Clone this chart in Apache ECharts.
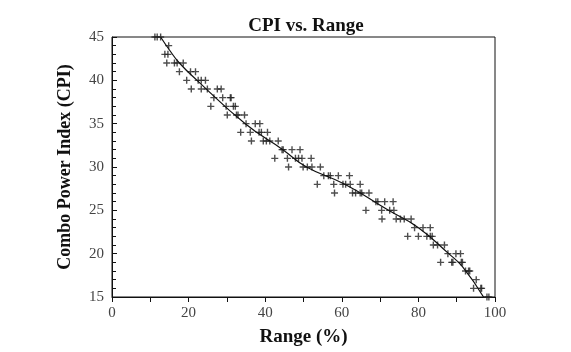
<!DOCTYPE html>
<html>
<head>
<meta charset="utf-8">
<script src="https://cdn.jsdelivr.net/npm/echarts@6/dist/echarts.min.js"></script>
<style>
  html, body { margin: 0; padding: 0; background: #fff; }
  #chart { width: 571px; height: 352px; }
</style>
</head>
<body>
<div id="chart"></div>
<script>
// scatter points, grouped by CPI row
var cpiRows = [45, 44, 43, 42, 41, 40, 39, 38, 37, 36, 35, 34, 33, 32, 31, 30, 29, 28, 27, 26, 25, 24, 23, 22, 21, 20, 19, 18, 17, 16, 15];
var rangeRows = [
    [11.2, 11.8, 12.7],
    [14.8],
    [13.8, 14.6],
    [14.3, 16.3, 17.0, 18.6],
    [17.6, 20.5, 21.8],
    [19.5, 22.5, 23.3, 24.4],
    [20.7, 23.3, 24.9, 27.5, 28.5],
    [26.6, 28.9, 30.9, 31.1],
    [25.8, 29.8, 31.7, 32.2],
    [30.1, 32.5, 32.9, 34.6],
    [35.0, 37.4, 38.6],
    [33.6, 36.1, 38.4, 39.0, 40.6],
    [36.4, 39.5, 40.3, 41.2, 43.4],
    [44.4, 44.7, 47.0, 49.1],
    [42.5, 45.8, 47.9, 48.7, 49.6, 52.0],
    [46.1, 49.9, 51.0, 52.2, 54.4],
    [55.3, 56.5, 57.0, 59.1, 62.0],
    [53.6, 57.9, 60.3, 61.0, 62.2, 64.8],
    [58.1, 62.8, 63.6, 64.8, 65.2, 67.1],
    [68.9, 69.4, 71.2, 73.4],
    [66.3, 70.4, 72.5, 73.6],
    [70.5, 74.2, 75.3, 76.3, 78.1],
    [79.0, 81.2, 83.1],
    [77.2, 80.0, 82.2, 83.1, 83.6],
    [83.9, 85.0, 86.8],
    [87.7, 89.8, 91.0],
    [85.8, 88.7, 89.0, 91.2, 91.5],
    [92.3, 93.1, 93.4],
    [95.1],
    [94.4, 96.3, 96.5],
    [97.9, 98.4]
];

// trend curve
var fitRange = [12.7, 15.0, 17.6, 22.2, 34.8, 44.6, 50.8, 60.8, 72.2, 80.0, 87.9, 91.5, 97.0];
var fitCpi   = [45,   43.5, 42,   40,   35,   32,   30,   28,   25,   23,   20,   18.5, 15];

var points = [];
cpiRows.forEach(function (cpi, i) {
    rangeRows[i].forEach(function (r) {
        points.push([r, cpi]);
    });
});
var curve = fitRange.map(function (r, i) { return [r, fitCpi[i]]; });

var font = 'Liberation Serif';
var chart = echarts.init(document.getElementById('chart'));
chart.setOption({
    animation: false,
    title: {
        text: 'CPI vs. Range',
        left: 301,
        textAlign: 'center',
        top: 12,
        textStyle: { fontFamily: font, fontSize: 19, fontWeight: 'bold', color: '#111' }
    },
    grid: {
        left: 112, right: 76, top: 37, bottom: 53,
        show: true, borderColor: '#111', borderWidth: 1
    },
    xAxis: {
        type: 'value', min: 0, max: 100, interval: 20,
        name: 'Range (%)', nameLocation: 'middle', nameGap: 31,
        nameTextStyle: { fontFamily: font, fontSize: 19, fontWeight: 'bold', color: '#111' },
        axisLine: { lineStyle: { color: '#111' } },
        axisTick: { show: true, length: 5, lineStyle: { color: '#111' } },
        minorTick: { show: true, splitNumber: 2, length: 5, lineStyle: { color: '#111' } },
        splitLine: { show: false },
        axisLabel: { fontFamily: font, fontSize: 15, color: '#444', margin: 9 }
    },
    yAxis: {
        type: 'value', min: 15, max: 45, interval: 5,
        name: 'Combo Power Index (CPI)', nameLocation: 'middle', nameGap: 38,
        nameTextStyle: { fontFamily: font, fontSize: 18, fontWeight: 'bold', color: '#111' },
        axisLine: { show: true, lineStyle: { color: '#111' } },
        axisTick: { show: true, inside: true, length: 5, lineStyle: { color: '#111' } },
        minorTick: { show: true, splitNumber: 5, length: 4, lineStyle: { color: '#111' } },
        splitLine: { show: false },
        axisLabel: { fontFamily: font, fontSize: 15, color: '#444', margin: 8 }
    },
    series: [
        {
            type: 'scatter',
            data: points,
            symbol: 'path://M4,0H6V4H10V6H6V10H4V6H0V4H4Z',
            symbolSize: 7,
            itemStyle: { color: '#222' }
        },
        {
            type: 'line',
            data: curve,
            smooth: true,
            showSymbol: false,
            lineStyle: { color: '#111', width: 1.2 }
        }
    ]
});
</script>
</body>
</html>
